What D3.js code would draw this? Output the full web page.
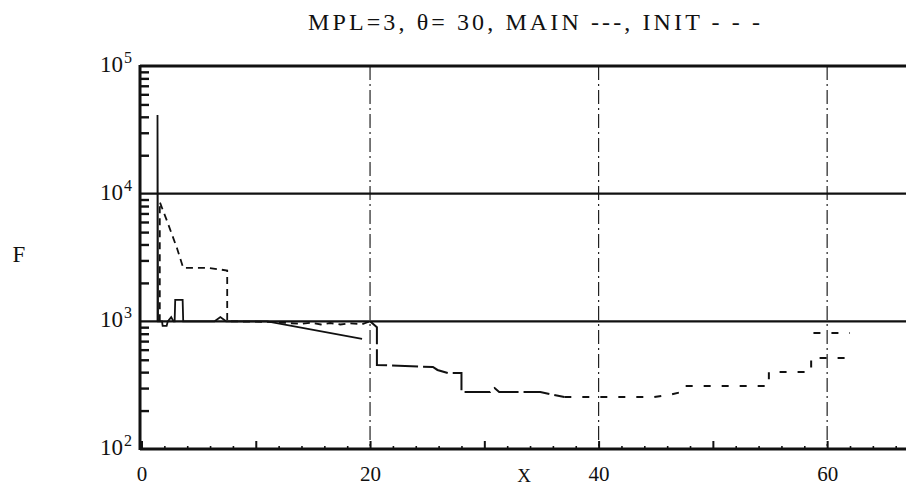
<!DOCTYPE html>
<html>
<head>
<meta charset="utf-8">
<script src="https://cdn.jsdelivr.net/npm/d3@7/dist/d3.min.js"></script>
<style>
  html, body { margin: 0; padding: 0; background: #fff; }
  svg { display: block; }
  text { font-family: "Liberation Serif", "DejaVu Serif", serif; fill: #111; }
</style>
</head>
<body>
<svg id="chart" width="906" height="485"></svg>
<script>
// ---- data ----
const titleText = "MPL=3, \u03B8= 30, MAIN ---, INIT - - -";
const xLabelTicks = [0, 20, 40, 60];
const xMajorTicks = [0, 10, 20, 30, 40, 50, 60];
const xMinorTicks = [2, 4, 6, 8, 12, 14, 16, 18, 22, 24, 26, 28, 32, 34, 36, 38, 42, 44, 46, 48, 52, 54, 56, 58, 62, 64, 66];
const xGridTicks = [20, 40, 60];
const yDecades = [100, 1000, 10000, 100000];
const yDecadeExp = ["2", "3", "4", "5"];
const yGridTicks = [1000, 10000];
const yMinorTicks = [200, 300, 400, 500, 600, 700, 800, 900,
                     2000, 3000, 4000, 5000, 6000, 7000, 8000, 9000,
                     20000, 30000, 40000, 50000, 60000, 70000, 80000, 90000];

// MAIN (solid)
const mainSeries = [
  [1.4, 1000], [1.4, 41300], [1.45, 1000], [1.8, 1000], [1.85, 920], [2.2, 920],
  [2.3, 1000], [2.6, 1080], [2.8, 1000], [2.9, 1000], [2.95, 1470], [3.6, 1470],
  [3.65, 1000], [6.4, 1000], [6.9, 1080], [7.4, 1000], [11.0, 1000], [19.3, 728]
];
// INIT (dashed) first part
const initSeries = [
  [1.6, 1000], [1.6, 8600], [2.3, 5890], [3.1, 3750], [3.65, 2620], [5.9, 2620],
  [6.7, 2560], [7.5, 2500], [7.5, 1000], [11.2, 990], [14.0, 955], [14.8, 975],
  [15.7, 945], [16.5, 970], [17.4, 945], [18.2, 965], [19.3, 950], [20.0, 1000]
];
// continuation after x=20 (long dashes)
const midSeries = [
  [20.0, 1000], [20.6, 900], [20.6, 455], [25.5, 439], [25.9, 416], [26.8, 394],
  [28.0, 394], [28.0, 279], [30.5, 279], [30.9, 300], [31.3, 279], [34.0, 279],
  [34.9, 279], [37.0, 255]
];
// tail (short dashes)
const tailSeries = [
  [37.0, 255], [44.8, 255], [46.2, 265], [47.2, 279], [47.4, 311], [54.9, 311],
  [54.9, 401], [58.6, 401], [58.6, 516], [61.7, 516]
];
const tailTopSeries = [[58.8, 811], [62.0, 811]];

// ---- layout ----
const svg = d3.select("#chart");
const x = d3.scaleLinear().domain([0, 66.9]).range([141.5, 906]);
const y = d3.scaleLog().domain([100, 100000]).range([449, 66]);
const pLeft = 140, pRight = 906, pTop = 66, pBottom = 449;

// title
svg.append("text")
  .attr("x", 308).attr("y", 30)
  .attr("font-size", 24)
  .attr("textLength", 452).attr("lengthAdjust", "spacing")
  .text(titleText);

// y label
svg.append("text").attr("x", 19).attr("y", 262)
  .attr("font-size", 23).attr("text-anchor", "middle").text("F");

// x label
svg.append("text").attr("x", 524).attr("y", 482)
  .attr("font-size", 19).attr("text-anchor", "middle").text("X");

// vertical dash-dot gridlines
svg.append("g").selectAll("line").data(xGridTicks).join("line")
  .attr("x1", d => x(d)).attr("x2", d => x(d))
  .attr("y1", pTop).attr("y2", pBottom)
  .attr("stroke", "#222").attr("stroke-width", 1.2)
  .attr("stroke-dasharray", "14,4,2,4");

// horizontal gridlines
svg.append("g").selectAll("line").data(yGridTicks).join("line")
  .attr("x1", pLeft).attr("x2", pRight)
  .attr("y1", d => y(d)).attr("y2", d => y(d))
  .attr("stroke", "#111").attr("stroke-width", 2.2);

// top border
svg.append("line").attr("x1", pLeft).attr("x2", pRight)
  .attr("y1", y(100000)).attr("y2", y(100000))
  .attr("stroke", "#111").attr("stroke-width", 3);

// left axis minor ticks (pointing inward)
const gy = svg.append("g").attr("transform", `translate(${pLeft},0)`)
  .call(d3.axisLeft(y).tickValues(yMinorTicks).tickSize(-9).tickFormat(""));
gy.select(".domain").remove();
gy.selectAll(".tick line").attr("stroke", "#111").attr("stroke-width", 2.4);

// left axis line
svg.append("line").attr("x1", pLeft).attr("x2", pLeft)
  .attr("y1", pTop - 1).attr("y2", pBottom + 1)
  .attr("stroke", "#111").attr("stroke-width", 3);

// bottom axis ticks
const gxMaj = svg.append("g").attr("transform", `translate(0,${pBottom})`)
  .call(d3.axisBottom(x).tickValues(xMajorTicks).tickSize(-8).tickFormat(""));
gxMaj.select(".domain").remove();
gxMaj.selectAll(".tick line").attr("stroke", "#111").attr("stroke-width", 2);
const gxMin = svg.append("g").attr("transform", `translate(0,${pBottom})`)
  .call(d3.axisBottom(x).tickValues(xMinorTicks).tickSize(-3).tickFormat(""));
gxMin.select(".domain").remove();
gxMin.selectAll(".tick line").attr("stroke", "#111").attr("stroke-width", 1.6);

svg.append("line").attr("x1", pLeft).attr("x2", pRight)
  .attr("y1", pBottom).attr("y2", pBottom)
  .attr("stroke", "#111").attr("stroke-width", 3);

// x tick labels
const gxl = svg.append("g").attr("transform", `translate(0,${pBottom})`)
  .call(d3.axisBottom(x).tickValues(xLabelTicks).tickSize(0).tickPadding(17)
        .tickFormat(d3.format("d")));
gxl.select(".domain").remove();
gxl.selectAll(".tick text").attr("font-size", 21)
  .attr("font-family", "Liberation Serif, serif").attr("fill", "#111");

// y decade labels
svg.append("g").selectAll("text").data(yDecades).join("text")
  .attr("x", 123).attr("y", d => y(d) + 6)
  .attr("text-anchor", "end").attr("font-size", 23)
  .text("10");
svg.append("g").selectAll("text").data(yDecades).join("text")
  .attr("x", 124).attr("y", d => y(d) - 3)
  .attr("font-size", 16).text((d, i) => yDecadeExp[i]);

// data lines
const line = d3.line().x(d => x(d[0])).y(d => y(d[1]));
svg.append("path").datum(mainSeries).attr("d", line)
  .attr("fill", "none").attr("stroke", "#111").attr("stroke-width", 1.8);
svg.append("path").datum(initSeries).attr("d", line)
  .attr("fill", "none").attr("stroke", "#111").attr("stroke-width", 1.8)
  .attr("stroke-dasharray", "7,5");
svg.append("path").datum(midSeries).attr("d", line)
  .attr("fill", "none").attr("stroke", "#111").attr("stroke-width", 2)
  .attr("stroke-dasharray", "26,5");
svg.append("path").datum(tailSeries).attr("d", line)
  .attr("fill", "none").attr("stroke", "#111").attr("stroke-width", 2)
  .attr("stroke-dasharray", "7,11");
svg.append("path").datum(tailTopSeries).attr("d", line)
  .attr("fill", "none").attr("stroke", "#111").attr("stroke-width", 2)
  .attr("stroke-dasharray", "7,11");
</script>
</body>
</html>
